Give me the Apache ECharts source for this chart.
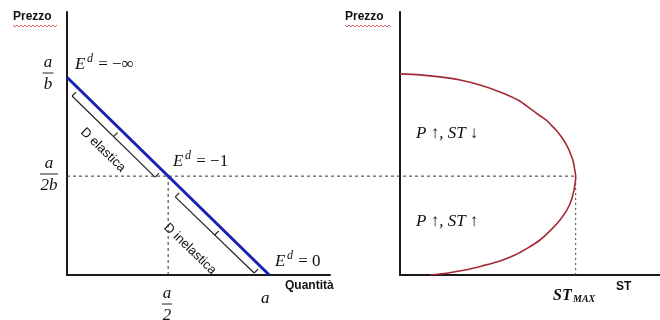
<!DOCTYPE html>
<html>
<head>
<meta charset="utf-8">
<script src="https://cdn.jsdelivr.net/npm/echarts@6/dist/echarts.min.js"></script>
<style>
  html, body { margin: 0; background: #fff; }
  #chart { width: 660px; height: 320px; }
</style>
</head>
<body>
<div id="chart"></div>
<script>
// demand curve P = a/b - Q/b with a = 100, b = 1
const demandQ = [0, 100];
const demandP = [100, 0];
const halfPrice = 50;      // a/2b
const halfQty = 50;        // a/2
// total revenue (ST) against price
const stValues = [0, 285, 569, 854, 1138, 1423, 1679, 1878, 1978, 2078, 2149, 2220, 2277, 2327,
  2369, 2405, 2433, 2459, 2476, 2487, 2500, 2495, 2476, 2440, 2376, 2277, 2149, 1992, 1821,
  1636, 1423, 1167, 925, 683, 427];
const stPrices = [101.7, 101.2, 100.2, 98.6, 96.1, 92.6, 88.5, 83.5, 80.9, 78.4, 75.9, 73.3, 70.8,
  68.3, 65.8, 63.2, 60.7, 58.2, 55.6, 53.1, 50, 47, 43, 37.9, 32.9, 27.8, 22.8, 17.7, 13.7,
  10.1, 7.1, 4.6, 2.5, 1, 0];
const stMax = 2500;
// brackets next to the demand line: [start, end]
const elasticBracket = [[2.5, 90.5], [43.5, 49.5]];
const inelasticBracket = [[53.5, 39.5], [92.5, 1]];

const chart = echarts.init(document.getElementById('chart'));

const axisLine = { show: true, onZero: false, lineStyle: { color: '#1a1a1a', width: 2 } };
const hideBits = {
  axisTick: { show: false }, axisLabel: { show: false }, splitLine: { show: false }
};

function seg(points, grid, style, extra) {
  return Object.assign({
    type: 'line', xAxisIndex: grid, yAxisIndex: grid,
    data: points, showSymbol: false, symbol: 'none', silent: true,
    lineStyle: style
  }, extra || {});
}

// bracket: main line, end ticks and a middle nub pointing to the demand line
function bracket(b) {
  const [s, e] = b;
  const m = [(s[0] + e[0]) / 2, (s[1] + e[1]) / 2];
  const k = 2;
  const st = { color: '#222', width: 1.2 };
  return [
    seg([s, e], 0, st),
    seg([s, [s[0] + k, s[1] + k]], 0, st),
    seg([e, [e[0] + k, e[1] + k]], 0, st),
    seg([m, [m[0] + k, m[1] + k]], 0, st)
  ];
}

const dash = { color: '#333', width: 1, type: [3, 3] };

const series = [
  seg([[0, halfPrice], [stMax, halfPrice]], 2, dash),
  seg([[halfQty, 0], [halfQty, halfPrice]], 0, dash),
  seg([[stMax, 0], [stMax, halfPrice]], 1, { color: '#444', width: 1, type: [2, 3] }),
  seg(demandQ.map((q, i) => [q, demandP[i]]), 0, { color: '#1a22b0', width: 3 }, { z: 5 }),
  seg(stValues.map((v, i) => [v, stPrices[i]]), 1, { color: '#a32a35', width: 1.6 },
    { smooth: 0.3, z: 5 })
].concat(bracket(elasticBracket), bracket(inelasticBracket));

function txt(x, y, text, font, extra) {
  return {
    type: 'text', silent: true,
    style: Object.assign({
      text: text, x: x, y: y, font: font, fill: '#111',
      textAlign: 'left', textVerticalAlign: 'middle'
    }, extra || {})
  };
}

function rotated(x, y, text, font) {
  return {
    type: 'text', silent: true, x: x, y: y, rotation: -44 * Math.PI / 180,
    style: { text: text, x: 0, y: 0, font: font, fill: '#111',
      textAlign: 'center', textVerticalAlign: 'middle' }
  };
}

const serifI = 'italic 17px "Liberation Serif"';
const serif = '17px "Liberation Serif"';
const bold = 'bold 12px "Liberation Sans", Arial';

function elasticity(x, y, rest) {
  return [
    txt(x, y, 'E', serifI),
    txt(x + 12, y - 6, 'd', 'italic 12px "Liberation Serif"'),
    txt(x + 19, y, rest, serif)
  ];
}

function frac(cx, cy, top, bottom, w) {
  return [
    txt(cx, cy - 10, top, serifI, { textAlign: 'center' }),
    { type: 'line', silent: true, shape: { x1: cx - w / 2, y1: cy, x2: cx + w / 2, y2: cy },
      style: { stroke: '#222', lineWidth: 1 } },
    txt(cx, cy + 12, bottom, serifI, { textAlign: 'center' })
  ];
}

function wavy(x0, x1, y) {
  const pts = [];
  for (let x = x0, i = 0; x <= x1; x += 2, i++) pts.push([x, y + (i % 2 ? 1 : -1)]);
  return { type: 'polyline', silent: true, shape: { points: pts },
    style: { stroke: '#d04040', lineWidth: 0.8, fill: null } };
}

const graphics = [
  txt(13, 17, 'Prezzo', bold),
  wavy(13, 58, 26),
  txt(345, 17, 'Prezzo', bold),
  wavy(345, 392, 26),
  txt(285, 286, 'Quantità', bold),
  txt(616, 287, 'ST', bold),
  txt(553, 296, 'ST', 'italic bold 16px "Liberation Serif"'),
  txt(573, 299, 'MAX', 'italic bold 10px "Liberation Serif"'),
  txt(261, 299, 'a', serifI),
  txt(416, 134, 'P ↑, ST ↓', serifI),
  txt(416, 222, 'P ↑, ST ↑', serifI),
  rotated(103, 150, 'D elastica', '13px "Liberation Sans", Arial'),
  rotated(190, 249, 'D inelastica', '13px "Liberation Sans", Arial')
].concat(
  elasticity(75, 65, ' = −∞'),
  elasticity(173, 162, ' = −1'),
  elasticity(275, 262, ' = 0'),
  frac(48, 73, 'a', 'b', 11),
  frac(49, 174, 'a', '2b', 18),
  frac(167, 304, 'a', '2', 10)
);

chart.setOption({
  animation: false,
  grid: [
    { left: 67, top: 12, width: 263, height: 263 },
    { left: 400, top: 12, width: 260, height: 263 },
    // spans both panels, for the a/2b guide running to ST max
    { left: 67, top: 12, width: 508, height: 263 }
  ],
  xAxis: [
    Object.assign({ type: 'value', gridIndex: 0, min: 0, max: 130, axisLine: axisLine }, hideBits),
    Object.assign({ type: 'value', gridIndex: 1, min: 0, max: 3700, axisLine: axisLine }, hideBits),
    { type: 'value', gridIndex: 2, min: 0, max: stMax, show: false }
  ],
  yAxis: [
    Object.assign({ type: 'value', gridIndex: 0, min: 0, max: 133, axisLine: axisLine }, hideBits),
    Object.assign({ type: 'value', gridIndex: 1, min: 0, max: 133, axisLine: axisLine }, hideBits),
    { type: 'value', gridIndex: 2, min: 0, max: 133, show: false }
  ],
  series: series,
  graphic: graphics
});
</script>
</body>
</html>
